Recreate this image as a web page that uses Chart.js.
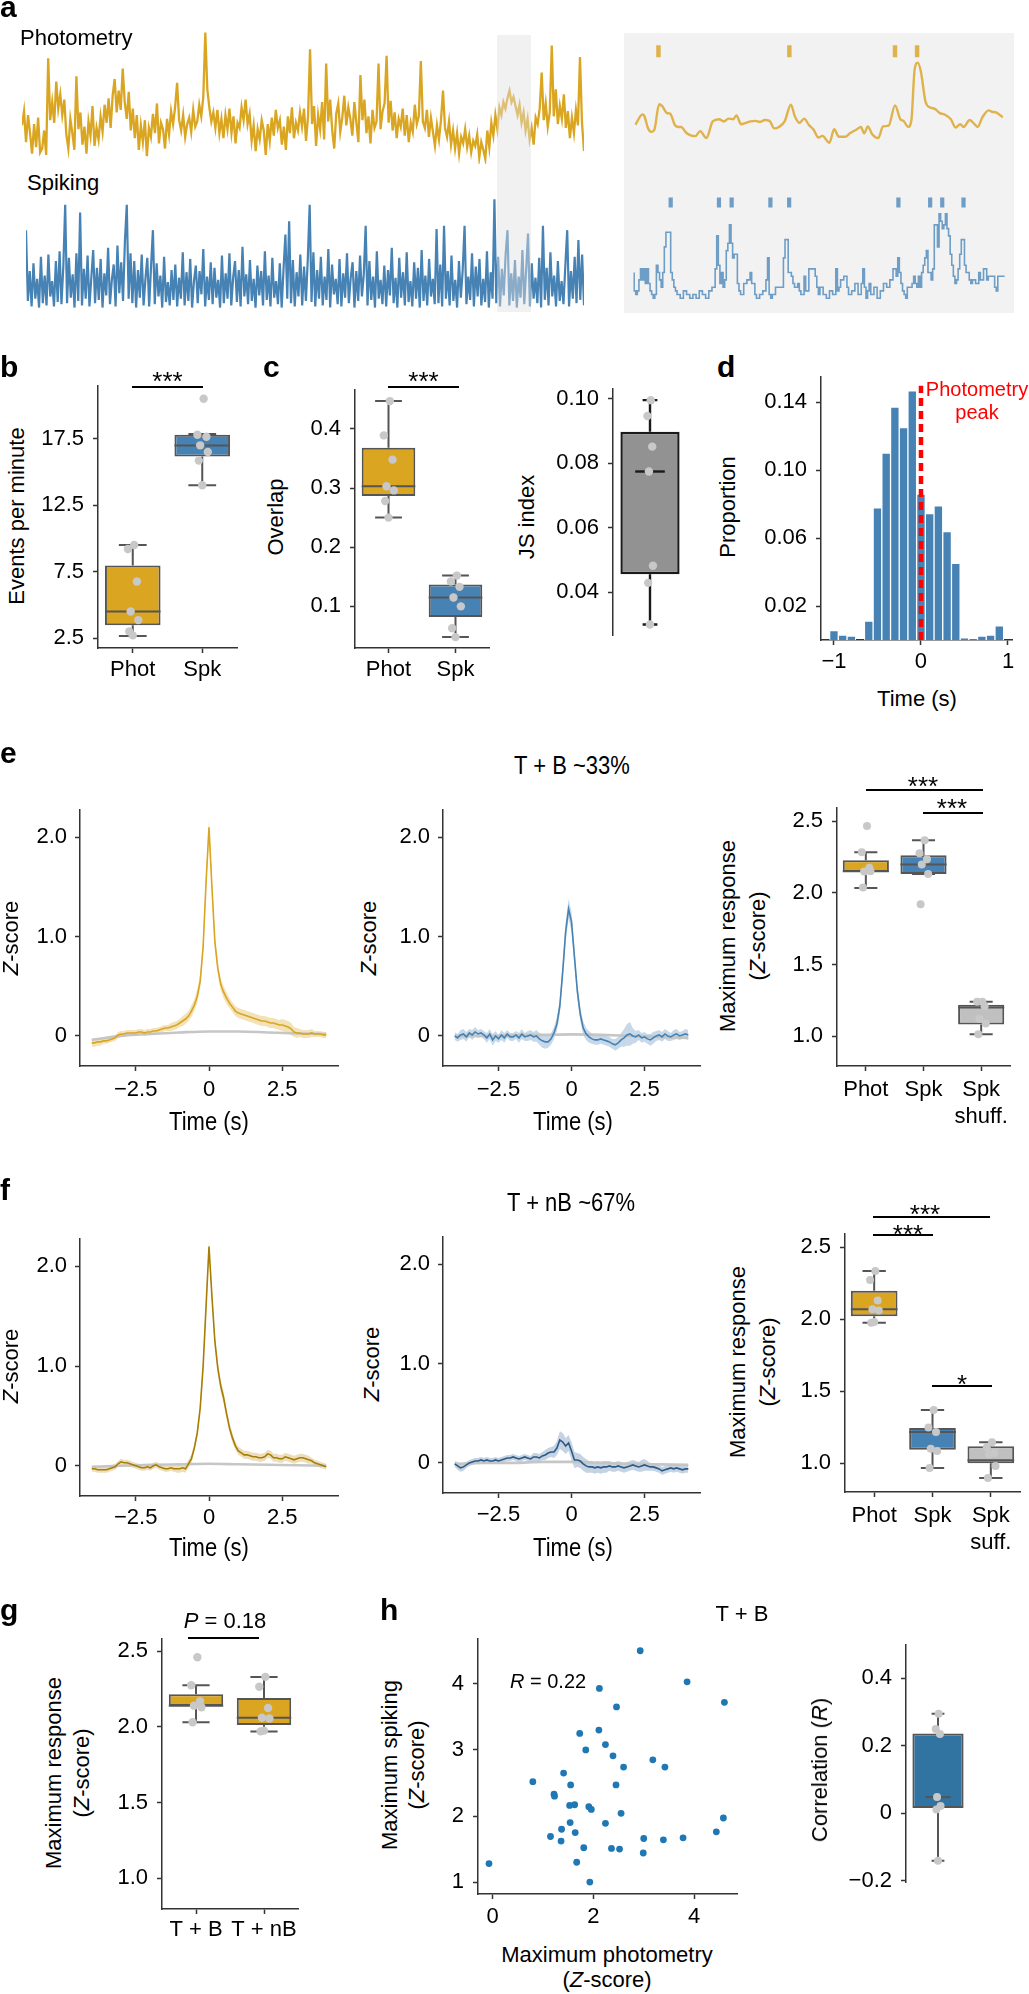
<!DOCTYPE html>
<html><head><meta charset="utf-8">
<script src="https://cdn.jsdelivr.net/npm/chart.js@4.4.1/dist/chart.umd.min.js"></script>
<style>
html,body{margin:0;padding:0;background:#fff;}
body{position:relative;width:1029px;height:1994px;overflow:hidden;font-family:'Liberation Sans',Arial,Helvetica,sans-serif;color:#000;}
.tx{position:absolute;white-space:nowrap;line-height:1;}
</style></head><body>
<script>
// ================= DATA =================
// panel a : long traces (arbitrary units)
const photTrace = [
2.8,3.9,1.5,3.6,2.2,0.6,2.9,1.1,3.4,0.7,1.0,2.4,0.5,8.0,3.2,4.6,3.0,6.2,4.1,5.2,
3.6,4.8,2.1,1.0,3.3,2.2,0.9,6.6,2.5,3.8,1.3,2.7,0.6,3.1,2.0,4.3,1.2,2.6,1.7,3.5,
2.3,4.4,3.0,4.9,2.6,5.1,6.4,3.8,5.5,4.0,7.2,4.6,3.3,5.4,2.4,4.1,1.8,3.6,0.9,2.8,
1.5,3.2,0.4,2.6,1.9,3.7,2.2,4.5,1.4,3.0,2.5,1.0,3.3,2.1,3.9,2.9,4.2,6.1,3.2,2.4,
3.6,1.9,2.9,3.4,2.3,4.0,2.7,3.1,4.4,3.5,5.0,10.0,5.6,4.2,3.1,3.8,2.6,4.0,2.2,3.3,
1.8,3.6,2.5,4.1,2.2,3.5,1.4,3.0,2.6,4.2,3.2,4.8,2.9,3.7,1.6,2.8,0.8,2.5,1.7,3.2,
2.4,0.5,2.9,1.6,3.4,2.0,4.0,2.6,3.2,1.3,2.7,0.9,3.5,2.2,4.2,1.8,3.0,2.4,3.8,2.7,
4.1,1.6,3.5,8.7,2.9,4.3,1.2,3.6,2.5,4.6,1.7,7.6,3.1,4.8,2.4,1.0,3.7,4.5,2.3,3.4,
5.1,2.8,4.2,3.3,2.0,4.6,3.0,1.5,6.7,3.2,4.8,2.2,3.5,1.4,4.0,2.6,3.1,7.6,2.5,3.9,
4.5,8.2,3.0,4.7,2.4,3.8,1.8,3.3,2.7,4.1,2.0,3.6,1.5,3.0,2.3,4.4,2.9,3.5,7.8,3.1,
2.6,4.0,1.9,3.4,2.3,1.2,2.8,1.7,3.2,5.5,2.6,1.9,3.1,1.3,2.4,1.0,2.2,0.6,1.9,1.4,
2.5,1.1,2.0,0.7,1.6,1.2,2.1,0.3,1.5,0.9,0.2,2.4,1.1,3.0,2.0,3.6,2.5,4.2,3.6,4.6,
4.1,4.9,5.5,4.6,5.0,4.3,3.6,4.4,3.0,3.8,2.4,3.3,1.7,2.6,1.3,3.4,2.9,4.1,6.9,3.2,
4.5,2.7,3.8,9.0,3.5,5.6,2.9,4.3,3.3,5.2,2.6,3.9,1.8,3.4,2.2,4.0,2.8,8.1,3.0,0.8];
const spikeTrace = [
7.2,0.8,3.5,0.3,4.2,1.0,2.8,0.2,4.8,0.6,3.1,0.4,5.0,1.2,2.6,0.3,4.4,0.7,5.3,0.5,
3.9,9.5,0.6,4.7,1.1,3.2,0.2,5.1,0.8,8.8,0.4,3.7,1.0,4.9,0.3,2.9,5.4,0.6,3.8,0.9,
4.6,0.2,3.3,1.3,5.6,0.5,2.7,4.1,0.3,5.8,1.5,4.3,0.8,6.2,9.5,1.0,5.1,0.6,4.4,0.2,
3.6,1.1,5.0,0.4,2.8,4.7,0.3,3.9,7.2,0.5,4.2,1.2,3.1,0.2,4.8,0.7,2.5,0.4,3.6,0.9,
4.1,0.3,2.9,1.0,5.2,0.4,3.4,0.8,4.6,0.2,2.6,4.0,0.6,3.5,1.4,5.5,0.3,3.0,0.9,4.3,
0.5,3.8,1.1,2.7,0.2,4.9,0.6,3.3,1.0,5.1,0.4,2.9,4.4,0.7,3.6,0.3,5.7,1.2,3.2,0.5,
4.5,0.8,2.8,0.2,4.0,1.3,3.5,0.4,5.3,0.9,3.1,0.3,4.7,1.1,2.6,0.5,4.2,0.2,3.7,6.8,
1.0,8.0,0.6,4.5,0.3,3.4,1.2,5.0,0.4,3.9,0.8,4.6,9.5,0.7,5.2,0.3,3.6,1.0,4.8,0.4,
3.0,0.9,5.5,0.2,4.1,1.4,2.8,0.5,4.6,0.3,3.3,1.1,5.1,0.6,2.9,4.3,0.2,3.5,0.8,4.9,
1.2,3.2,7.6,0.4,4.4,0.9,3.0,0.2,5.3,1.0,2.7,0.5,4.0,0.3,3.6,1.3,5.6,0.6,2.9,0.2,
4.7,1.1,3.4,0.4,5.2,0.7,2.6,0.3,4.3,1.0,3.8,0.2,5.4,0.8,3.1,0.4,4.6,1.2,2.8,0.5,
7.3,0.6,4.1,0.3,7.6,1.0,3.5,0.4,4.9,0.8,2.7,0.2,4.4,1.1,3.6,7.6,0.5,3.0,0.9,5.1,
0.3,3.9,1.2,4.6,0.4,2.8,0.7,5.3,0.2,3.4,1.0,10.0,0.6,4.8,0.3,3.7,1.3,5.0,7.2,0.4,
3.3,0.8,4.5,0.2,3.0,1.1,5.4,0.5,3.6,6.9,0.3,4.2,1.0,2.9,0.6,4.7,0.2,7.6,0.9,3.8,
0.4,5.2,1.2,3.1,0.3,4.4,0.8,2.6,0.5,4.0,7.2,0.3,3.5,1.0,4.8,0.6,6.3,0.9,5.0,0.4];
// panel a : zoomed window (time in samples)
const winOrangeT = [0,22,28,40,50,60,75,85,100,110,125,135,145,160,175,190,205,225,245,265,
280,295,310,320,335,350,365,380,395,410,425,440,455,473,493,505,520,535,550,565,
580,593,615,630,645,665,680,700,715,725,737,750,770,785,803,823,840,850,865,875,
885,895,905,920,935,950,965,980,1000,1015,1030,1040,1060,1075,1085,1100,1120,1130,1145,1165];
const winOrangeV = [7.8,11.5,11.0,6.5,5.2,6.0,15.2,14.5,12.0,11.8,7.7,7.0,7.0,5.0,4.0,3.7,5.5,3.0,9.0,9.8,
9.0,10.0,9.8,11.2,8.0,8.5,9.0,9.2,8.8,9.5,9.2,6.5,7.0,9.0,15.0,11.0,8.5,10.0,7.7,6.0,
3.2,3.8,1.3,6.2,3.5,3.5,4.7,6.0,7.0,4.7,7.2,4.5,3.0,7.2,7.5,14.8,9.8,9.2,7.0,9.5,
27.5,30.2,27.0,16.0,14.0,13.5,12.0,11.5,9.8,6.8,8.0,7.0,9.5,8.0,7.0,10.5,13.0,12.5,12.2,10.5];
const winPhotEvents = [73,488,823,893];
const winSpikeEvents = [115,267,307,429,488,832,932,970,1037];
const winSpikeSteps = [[0,7],[5,2],[10,1],[15,2],[20,5],[25,8],[30,5],[35,8],[40,4],[45,8],[50,4],[55,2],[60,1],[65,0],[70,1],
[75,9],[80,7],[85,5],[90,3],[95,7],[100,14],[115,18],[120,7],[125,5],[130,3],[135,2],[145,1],[155,0],[165,2],[175,1],[185,0],
[195,1],[205,0],[215,2],[225,1],[235,0],[245,2],[255,3],[260,8],[265,17],[270,9],[275,4],[280,7],[285,3],[290,5],[295,13],
[300,15],[305,20],[310,15],[315,11],[325,12],[330,4],[335,2],[345,1],[355,4],[365,5],[370,7],[380,4],[385,1],[395,0],[405,1],
[415,2],[420,5],[425,11],[430,1],[435,0],[445,1],[470,3],[475,11],[485,16],[495,7],[500,6],[505,4],[515,3],[520,4],[525,2],
[535,1],[540,6],[550,2],[570,8],[575,6],[580,3],[585,1],[595,3],[605,1],[615,0],[625,2],[635,1],[640,8],[645,2],[650,3],
[660,5],[670,6],[675,3],[685,1],[695,2],[705,4],[715,1],[720,4],[725,8],[730,3],[735,0],[740,2],[745,4],[755,1],[765,3],
[775,0],[785,2],[795,4],[805,3],[815,5],[825,8],[830,6],[835,11],[840,7],[845,4],[850,2],[855,1],[860,0],[875,3],[880,4],
[885,6],[890,4],[895,3],[900,6],[905,3],[910,7],[915,9],[920,11],[925,13],[935,7],[940,5],[945,8],[955,20],[960,14],[965,23],
[970,21],[975,19],[980,20],[985,23],[990,19],[995,17],[1000,12],[1005,9],[1010,6],[1015,4],[1020,5],[1025,8],[1030,12],
[1040,16],[1045,9],[1055,7],[1060,5],[1065,4],[1075,5],[1085,4],[1090,7],[1100,5],[1110,8],[1115,5],[1135,6],[1140,3],
[1145,2],[1150,6],[1167,6]];

// box stats: [low whisker, q1, median, q3, high whisker]
const bCats = ['Phot','Spk'];
const bStats = [[2.65,3.47,4.5,7.95,9.5],[14.0,16.16,16.98,17.8,17.85]];
const bPoints = [[9.5,9.2,6.75,4.5,3.85,3.0,2.7],[20.5,17.8,17.65,17.0,16.5,15.85,14.0]];
const bTicks = [2.5,7.5,12.5,17.5], bTickLabels = ['2.5','7.5','12.5','17.5'];

const cCats = ['Phot','Spk'];
const cStats = [[0.25,0.2866,0.303,0.368,0.447],[0.048,0.082,0.115,0.137,0.152]];
const cPoints = [[0.447,0.389,0.348,0.303,0.296,0.278,0.25],[0.152,0.142,0.133,0.115,0.10,0.063,0.048]];
const cTicks = [0.1,0.2,0.3,0.4], cTickLabels = ['0.1','0.2','0.3','0.4'];

const jsStats = [[0.030,0.0456,0.0774,0.0897,0.0995]];
const jsPoints = [[0.0995,0.0946,0.0851,0.0774,0.0482,0.0429,0.030]];
const jsTicks = [0.04,0.06,0.08,0.10], jsTickLabels = ['0.04','0.06','0.08','0.10'];

// panel d histogram
const histBins = [-1.0,-0.9,-0.8,-0.7,-0.6,-0.5,-0.4,-0.3,-0.2,-0.1,0.0,0.1,0.2,0.3,0.4,0.5,0.6,0.7,0.8,0.9];
const histProp = [0.0056,0.0029,0.0023,0,0.0112,0.0778,0.110,0.137,0.125,0.1466,0.0858,0.0743,0.079,0.0638,0.0451,0.0013,0.0009,0.0023,0.0029,0.0083];
const dTicksY = [0.02,0.06,0.10,0.14], dTickLabelsY = ['0.02','0.06','0.10','0.14'];
const dTicksX = [-1,0,1], dTickLabelsX = ['\u22121','0','1'];
const photPeakTime = 0, photPeakLineTop = 0.1496;

// panels e/f : mean +- sem, time -4..4 s, 0.1 s steps
const ePhotMean = [-0.07,-0.07,-0.06,-0.06,-0.05,-0.05,-0.04,-0.03,-0.02,0.01,
0.02,0.02,0.03,0.03,0.03,0.03,0.04,0.04,0.03,0.04,
0.04,0.05,0.05,0.06,0.07,0.08,0.08,0.09,0.10,0.11,
0.13,0.15,0.17,0.20,0.25,0.31,0.40,0.55,0.90,1.55,
2.10,1.50,0.95,0.68,0.52,0.44,0.38,0.33,0.29,0.25,
0.23,0.22,0.21,0.20,0.19,0.18,0.17,0.16,0.15,0.15,
0.14,0.13,0.13,0.12,0.11,0.11,0.10,0.09,0.07,0.04,
0.03,0.03,0.02,0.02,0.02,0.03,0.02,0.02,0.02,0.01,0.01];
const ePhotSem = [0.04,0.04,0.04,0.04,0.03,0.03,0.03,0.03,0.03,0.03,
0.03,0.03,0.03,0.03,0.03,0.03,0.03,0.03,0.03,0.03,
0.03,0.03,0.03,0.03,0.03,0.03,0.03,0.04,0.04,0.04,
0.04,0.05,0.05,0.05,0.06,0.06,0.07,0.07,0.08,0.08,
0.09,0.08,0.07,0.06,0.06,0.06,0.06,0.05,0.05,0.05,
0.05,0.05,0.05,0.05,0.05,0.05,0.05,0.05,0.05,0.05,
0.05,0.05,0.05,0.05,0.05,0.06,0.06,0.06,0.06,0.05,
0.05,0.04,0.04,0.04,0.04,0.04,0.03,0.03,0.03,0.03,0.03];
const eSpkMean = [0.00,-0.02,0.01,0.02,-0.01,0.03,0.01,0.04,0.02,0.03,
0.01,-0.02,0.02,-0.04,0.00,-0.03,0.01,-0.02,0.02,-0.01,
-0.01,0.01,-0.02,0.02,-0.01,0.00,0.01,-0.01,0.00,-0.03,
-0.05,-0.06,-0.06,-0.03,0.03,0.12,0.30,0.65,1.05,1.28,
1.15,0.80,0.45,0.22,0.08,0.02,-0.01,-0.03,-0.04,-0.04,
-0.03,-0.04,-0.05,-0.06,-0.08,-0.09,-0.07,-0.04,-0.02,0.01,
0.02,0.00,-0.01,0.01,-0.02,-0.01,-0.03,-0.04,-0.02,0.00,
0.01,-0.01,0.02,0.00,-0.01,0.01,0.02,0.00,0.01,0.02,0.01];
const eSpkSem = [0.04,0.04,0.05,0.05,0.05,0.04,0.05,0.05,0.04,0.04,
0.04,0.05,0.05,0.06,0.05,0.04,0.05,0.05,0.04,0.04,
0.04,0.04,0.05,0.05,0.04,0.05,0.05,0.05,0.06,0.06,
0.07,0.07,0.06,0.06,0.06,0.07,0.08,0.09,0.10,0.10,
0.10,0.09,0.08,0.07,0.07,0.06,0.06,0.05,0.05,0.05,
0.05,0.05,0.05,0.05,0.05,0.06,0.06,0.07,0.09,0.11,
0.12,0.08,0.06,0.05,0.05,0.05,0.05,0.06,0.06,0.05,
0.05,0.05,0.05,0.05,0.04,0.05,0.05,0.04,0.04,0.05,0.05];
const fPhotMean = [-0.03,-0.03,-0.04,-0.04,-0.04,-0.04,-0.03,-0.02,-0.01,0.02,
0.04,0.03,0.03,0.02,0.01,0.00,-0.01,-0.02,-0.02,-0.01,
-0.02,0.00,0.01,-0.01,-0.02,-0.03,-0.03,-0.02,-0.03,-0.03,
-0.03,-0.02,-0.03,0.02,0.07,0.18,0.33,0.58,1.00,1.60,
2.20,1.70,1.25,0.98,0.80,0.68,0.52,0.38,0.28,0.20,
0.15,0.13,0.11,0.11,0.10,0.09,0.09,0.08,0.08,0.09,
0.12,0.11,0.08,0.08,0.07,0.07,0.09,0.08,0.07,0.06,
0.07,0.08,0.08,0.07,0.06,0.05,0.03,0.02,0.01,0.00,-0.01];
const fPhotSem = [0.03,0.03,0.03,0.03,0.03,0.03,0.03,0.03,0.03,0.03,
0.03,0.03,0.03,0.03,0.03,0.03,0.03,0.03,0.03,0.03,
0.03,0.03,0.03,0.03,0.03,0.03,0.03,0.03,0.03,0.04,
0.04,0.04,0.04,0.04,0.04,0.04,0.05,0.05,0.06,0.06,
0.06,0.06,0.06,0.06,0.06,0.06,0.05,0.05,0.05,0.04,
0.04,0.04,0.04,0.04,0.04,0.04,0.04,0.04,0.04,0.04,
0.04,0.04,0.04,0.04,0.04,0.04,0.04,0.04,0.04,0.04,
0.04,0.04,0.04,0.04,0.04,0.03,0.03,0.03,0.03,0.03,0.03];
const fSpkMean = [-0.01,-0.03,-0.05,-0.04,-0.02,0.00,0.01,0.02,0.02,0.03,
0.02,0.03,0.02,0.02,0.03,0.02,0.03,0.04,0.05,0.05,
0.06,0.05,0.04,0.05,0.06,0.05,0.04,0.06,0.06,0.05,
0.07,0.08,0.10,0.11,0.11,0.15,0.23,0.21,0.17,0.20,
0.12,0.03,0.03,0.02,-0.01,-0.03,-0.04,-0.04,-0.05,-0.04,
-0.05,-0.04,-0.04,-0.03,-0.04,-0.04,-0.03,-0.04,-0.05,-0.04,
-0.03,-0.02,-0.03,-0.04,-0.03,-0.02,-0.03,-0.04,-0.04,-0.05,
-0.06,-0.08,-0.07,-0.06,-0.05,-0.06,-0.05,-0.06,-0.07,-0.06,-0.06];
const fSpkSem = [0.03,0.04,0.04,0.04,0.03,0.03,0.03,0.03,0.03,0.03,
0.03,0.03,0.03,0.03,0.03,0.03,0.03,0.03,0.03,0.03,
0.03,0.03,0.03,0.03,0.03,0.03,0.03,0.04,0.04,0.04,
0.04,0.05,0.05,0.05,0.06,0.07,0.09,0.09,0.08,0.08,
0.09,0.08,0.07,0.07,0.07,0.07,0.06,0.06,0.06,0.06,
0.06,0.06,0.06,0.05,0.05,0.05,0.05,0.05,0.05,0.05,
0.05,0.05,0.05,0.05,0.06,0.06,0.05,0.04,0.04,0.04,
0.04,0.04,0.04,0.04,0.04,0.04,0.04,0.04,0.04,0.04,0.04];
const shufTimes = [-4,-3,-2,-1,0,1,2,3,4];
const ePhotShuf = [-0.04,0.0,0.02,0.035,0.045,0.045,0.035,0.025,0.02];
const eSpkShuf = [0.0,0.0,0.005,0.01,0.015,0.01,0.0,-0.01,-0.02];
const fPhotShuf = [-0.01,0.0,0.01,0.015,0.02,0.015,0.01,0.005,0.0];
const fSpkShuf = [-0.01,0.0,0.0,0.01,0.01,0.0,-0.01,-0.015,-0.02];
const traceTicksX = [-2.5,0,2.5], traceTickLabelsX = ['\u22122.5','0','2.5'];
const traceTicksY = [0,1,2], traceTickLabelsY = ['0','1.0','2.0'];

const eCats = ['Phot','Spk',['Spk','shuff.']];
const eStats = [[2.034,2.145,2.15,2.228,2.283],[2.131,2.131,2.198,2.262,2.366],[1.014,1.083,1.20,1.22,1.24]];
const ePoints = [[2.466,2.283,2.175,2.148,2.150,2.038],[2.366,2.276,2.234,2.198,2.131,1.92],[1.24,1.24,1.21,1.12,1.09,1.014]];
const fCats = ['Phot','Spk',['Spk','suff.']];
const fStats = [[1.975,2.02,2.069,2.197,2.334],[0.966,1.093,1.217,1.245,1.369],[0.897,1.0,1.02,1.117,1.145]];
const fPoints = [[2.334,2.272,2.13,2.069,2.06,1.975,1.98],[1.369,1.247,1.217,1.10,1.084,0.966],[1.145,1.11,1.07,1.06,0.98,0.897]];
const respTicks = [1.0,1.5,2.0,2.5], respTickLabels = ['1.0','1.5','2.0','2.5'];

const gCats = ['T + B','T + nB'];
const gStats = [[2.03,2.137,2.14,2.216,2.275],[1.97,2.013,2.06,2.19,2.33]];
const gPoints = [[2.46,2.275,2.17,2.14,2.13,2.03],[2.33,2.265,2.125,2.06,2.055,1.97,1.975]];

const hPhot = [-0.07,2.93,3.86,2.12,4.60,2.46,2.11,1.73,2.24,1.85,2.39,3.18,2.60,3.42,1.41,0.80,1.55,2.45,1.22,1.23,1.53,1.63,1.91,1.96,2.55,4.58,1.54,2.24,1.37,4.44,1.64,1.15,3.00,3.78,3.39,1.36,1.81,2.36,2.52,2.99,1.67,1.93];
const hSpk  = [1.28,4.50,4.03,3.93,3.72,3.65,3.30,3.25,3.08,3.00,2.91,2.85,2.74,2.74,2.65,2.52,2.47,2.47,2.33,2.30,2.16,2.17,2.14,2.10,2.04,1.97,1.90,1.89,1.80,1.76,1.75,1.69,1.66,1.67,1.64,1.62,1.52,1.51,1.50,1.44,1.30,1.00];
const hTicksX = [0,2,4], hTicksY = [1,2,3,4];
const corrStats = [[-0.14,0.016,0.048,0.236,0.295]];
const corrPoints = [[0.295,0.25,0.235,0.048,0.022,0.011,-0.14]];
const corrTicks = [-0.2,0,0.2,0.4], corrTickLabels = ['\u22120.2','0','0.2','0.4'];

// ================= STYLE / HELPERS =================
const FONT = "'Liberation Sans', Arial, Helvetica, sans-serif";
const GOLD = '#DAA520', BLUE = '#4682B4', EDGE = '#555555', DOT = '#C8C8C8';
const JIT = [0.02,-0.07,0.06,-0.03,0.08,-0.05,0.0,0.04];
Chart.defaults.font.family = FONT;
Chart.defaults.font.size = 22;
Chart.defaults.color = '#000';

const boxPlugin = {
  id: 'boxw',
  beforeDatasetsDraw(chart, args, o) {
    if (!o || !o.stats) return;
    const ctx = chart.ctx, xs = chart.scales.x, ys = chart.scales.y;
    ctx.save(); ctx.strokeStyle = o.edge; ctx.lineWidth = o.lw;
    o.stats.forEach((s, i) => {
      const cx = xs.getPixelForValue(i), hw = xs.getPixelForValue(i + 0.2) - cx;
      const yl = ys.getPixelForValue(s[0]), y1 = ys.getPixelForValue(s[1]);
      const y3 = ys.getPixelForValue(s[3]), yh = ys.getPixelForValue(s[4]);
      ctx.beginPath();
      ctx.moveTo(cx, y3); ctx.lineTo(cx, yh);
      ctx.moveTo(cx - hw, yh); ctx.lineTo(cx + hw, yh);
      ctx.moveTo(cx, y1); ctx.lineTo(cx, yl);
      ctx.moveTo(cx - hw, yl); ctx.lineTo(cx + hw, yl);
      ctx.stroke();
    });
    ctx.restore();
  },
  afterDatasetDraw(chart, args, o) {
    if (!o || !o.stats) return;
    if (!chart.data.datasets[args.index].isBox) return;
    const ctx = chart.ctx, xs = chart.scales.x, ys = chart.scales.y;
    ctx.save(); ctx.strokeStyle = o.edge; ctx.lineWidth = o.lw;
    o.stats.forEach((s, i) => {
      const ym = ys.getPixelForValue(s[2]);
      ctx.beginPath();
      ctx.moveTo(xs.getPixelForValue(i - 0.4), ym); ctx.lineTo(xs.getPixelForValue(i + 0.4), ym);
      ctx.stroke();
    });
    ctx.restore();
  }
};
Chart.register(boxPlugin);

function gridOpts() {
  return {display:true, offset:false, drawOnChartArea:false, drawTicks:true, tickLength:5, tickWidth:1.5, tickColor:'#333'};
}
function axisX(min, max, ticks, labels, opt) {
  opt = opt || {};
  return {type:'linear', min, max, bounds:'data', offset:false,
    afterBuildTicks: a => { a.ticks = ticks.map(v => ({value:v})); },
    ticks:{autoSkip:false, maxRotation:0, minRotation:0, padding: opt.pad == null ? 4 : opt.pad,
      font: opt.font || {family:FONT, size:22, lineHeight:1.25}, color:'#000', callback:(v,i) => labels[i]},
    grid: gridOpts(), border:{display:true, color:'#333', width:1.5}};
}
function axisY(min, max, ticks, labels, opt) {
  opt = opt || {};
  return {type:'linear', min, max, bounds:'data',
    afterBuildTicks: a => { a.ticks = ticks.map(v => ({value:v})); },
    ticks:{autoSkip:false, padding: opt.pad == null ? 9 : opt.pad,
      font: opt.font || {family:FONT, size:22}, color:'#000', callback:(v,i) => labels[i]},
    grid: gridOpts(), border:{display:true, color:'#333', width:1.5}};
}
function makeChart(area, pad, cfg) {
  const W = area.R - area.L + pad.l + pad.r;
  const H = area.B - area.T + pad.t + pad.b;
  const cv = document.createElement('canvas');
  cv.width = W; cv.height = H;
  cv.style.cssText = 'position:absolute;left:' + (area.L - pad.l) + 'px;top:' + (area.T - pad.t) + 'px;width:' + W + 'px;height:' + H + 'px;';
  document.body.appendChild(cv);
  const o = cfg.options = cfg.options || {};
  o.responsive = false; o.maintainAspectRatio = false; o.animation = false; o.events = []; o.devicePixelRatio = 1;
  o.plugins = Object.assign({legend:{display:false}, tooltip:{enabled:false}}, o.plugins || {});
  const pd = {top:pad.t, right:pad.r, left:0, bottom:0};
  const sx = o.scales.x, sy = o.scales.y;
  if (sx.display === false) pd.bottom = pad.b; else sx.afterFit = s => { s.height = pad.b; };
  if (sy.display === false) pd.left = pad.l; else sy.afterFit = s => { s.width = pad.l; };
  o.layout = {padding: pd};
  return new Chart(cv, cfg);
}
function boxChart(area, pad, stats, points, fills, cats, yr, yTicks, yLabels, opt) {
  opt = opt || {};
  const n = stats.length, sd = [];
  points.forEach((arr, i) => arr.forEach((v, j) => sd.push({x: i + JIT[j % JIT.length], y: v})));
  const edge = opt.edge || EDGE, lw = opt.lw || 2;
  const xAxis = cats ? axisX(-0.5, n - 0.5, stats.map((s, i) => i), cats, {pad: opt.xpad == null ? 4 : opt.xpad})
                     : {type:'linear', display:false, min:-0.5, max:n - 0.5};
  return makeChart(area, pad, {
    type:'bar',
    data:{datasets:[
      {type:'scatter', data:sd, order:0, pointRadius:opt.pr || 4.2, pointBackgroundColor:DOT, pointBorderWidth:0},
      {isBox:true, data:stats.map((s, i) => ({x:i, y:[s[1], s[3]]})), order:1, backgroundColor:fills,
       borderColor:edge, borderWidth:lw, borderSkipped:false, barPercentage:0.8, categoryPercentage:1, grouped:false}
    ]},
    options:{scales:{x:xAxis, y:axisY(yr[0], yr[1], yTicks, yLabels)}, plugins:{boxw:{stats, edge, lw}}}
  });
}
const tGrid = ePhotMean.map((v, i) => (i - 40) / 10);
function traceChart(area, pad, mean, sem, shuf, color, band, xpad) {
  const nf = {family:FONT, size:22, lineHeight:1.2};
  return makeChart(area, pad, {
    type:'line',
    data:{datasets:[
      {data:tGrid.map((t, i) => ({x:t, y:mean[i]})), borderColor:color, borderWidth:1.6, pointRadius:0, order:0},
      {data:shufTimes.map((t, i) => ({x:t, y:shuf[i]})), borderColor:'rgba(195,195,195,0.95)', borderWidth:2.6, pointRadius:0, cubicInterpolationMode:'monotone', order:1},
      {data:tGrid.map((t, i) => ({x:t, y:mean[i] + sem[i]})), borderColor:'rgba(0,0,0,0)', borderWidth:0.1, pointRadius:0, fill:false, order:2},
      {data:tGrid.map((t, i) => ({x:t, y:mean[i] - sem[i]})), borderColor:'rgba(0,0,0,0)', borderWidth:0.1, pointRadius:0, fill:'-1', backgroundColor:band, order:3}
    ]},
    options:{scales:{
      x:axisX(-4.4, 4.4, traceTicksX, traceTickLabelsX, {pad:xpad, font:nf}),
      y:axisY(-0.303, 2.273, traceTicksY, traceTickLabelsY, {font:nf, pad:8})}}
  });
}
function T(html, x, base, size, align, opt) {
  opt = opt || {};
  const d = document.createElement('div'); d.className = 'tx'; d.innerHTML = html;
  d.style.fontSize = size + 'px'; d.style.fontFamily = FONT;
  if (opt.bold) d.style.fontWeight = 'bold';
  if (opt.color) d.style.color = opt.color;
  d.style.left = x + 'px'; d.style.top = (base - 0.8465 * size) + 'px';
  let tr = '';
  if (align === 'center') tr = 'translateX(-50%)';
  else if (align === 'right') tr = 'translateX(-100%)';
  if (opt.sy) { tr += ' scaleY(' + opt.sy + ')'; d.style.transformOrigin = '50% ' + (0.8465 * size) + 'px'; }
  d.style.transform = tr;
  document.body.appendChild(d);
}
function R(html, cx, cy, size, opt) {
  opt = opt || {};
  const d = document.createElement('div'); d.className = 'tx'; d.innerHTML = html;
  d.style.fontSize = size + 'px'; d.style.fontFamily = FONT;
  d.style.left = cx + 'px'; d.style.top = cy + 'px';
  d.style.transform = 'translate(-50%,-50%) rotate(-90deg)';
  document.body.appendChild(d);
}
function HL(x1, x2, y, w) {
  w = w || 2;
  const d = document.createElement('div');
  d.style.cssText = 'position:absolute;left:' + x1 + 'px;top:' + (y - w / 2) + 'px;width:' + (x2 - x1) + 'px;height:' + w + 'px;background:#000;';
  document.body.appendChild(d);
}
function STAR(s, cx, cy, size) { size = size || 26; T(s, cx, cy + 0.57 * size, size, 'center'); }
function BOX(x, y, w, h, bg) {
  const d = document.createElement('div');
  d.style.cssText = 'position:absolute;left:' + x + 'px;top:' + y + 'px;width:' + w + 'px;height:' + h + 'px;background:' + bg + ';';
  document.body.appendChild(d);
}

// ================= PANEL a =================
makeChart({L:22, T:30, R:584, B:164}, {l:0, t:0, r:0, b:0}, {
  type:'line',
  data:{datasets:[{data:photTrace.map((v, i) => ({x:i, y:v})), borderColor:GOLD, borderWidth:2.3, pointRadius:0}]},
  options:{scales:{x:{type:'linear', display:false, min:0, max:photTrace.length - 1}, y:{display:false, min:-0.2, max:10.2}}}
});
makeChart({L:26, T:197, R:584, B:312}, {l:0, t:0, r:0, b:0}, {
  type:'line',
  data:{datasets:[{data:spikeTrace.map((v, i) => ({x:i, y:v})), borderColor:BLUE, borderWidth:2.2, pointRadius:0}]},
  options:{scales:{x:{type:'linear', display:false, min:0, max:spikeTrace.length - 1}, y:{display:false, min:-0.2, max:10.2}}}
});
BOX(497, 35, 34, 277, 'rgba(225,225,225,0.45)');
BOX(624, 33, 390, 280, '#F2F2F2');
makeChart({L:624, T:33, R:1014, B:158}, {l:0, t:0, r:0, b:0}, {
  type:'line',
  data:{datasets:[
    {data:winOrangeT.map((t, i) => ({x:t, y:winOrangeV[i]})), borderColor:'#DFB24C', borderWidth:2.4, pointRadius:0, cubicInterpolationMode:'monotone'},
    {type:'scatter', data:winPhotEvents.map(t => ({x:t, y:34.3})), pointStyle:'line', pointRotation:90, pointRadius:6, pointBorderWidth:4.5, pointBorderColor:'#DFB24C', pointBackgroundColor:'#DFB24C'}
  ]},
  options:{scales:{x:{type:'linear', display:false, min:-3, max:1167}, y:{display:false, min:-0.4, max:37.1}}}
});
makeChart({L:624, T:160, R:1014, B:313}, {l:0, t:0, r:0, b:0}, {
  type:'line',
  data:{datasets:[
    {data:winSpikeSteps.map(p => ({x:p[0], y:p[1]})), stepped:'after', borderColor:'#6E9DC6', borderWidth:1.6, pointRadius:0},
    {type:'scatter', data:winSpikeEvents.map(t => ({x:t, y:26.1})), pointStyle:'line', pointRotation:90, pointRadius:5, pointBorderWidth:4.2, pointBorderColor:'#6E9DC6', pointBackgroundColor:'#6E9DC6'}
  ]},
  options:{scales:{x:{type:'linear', display:false, min:-3, max:1167}, y:{display:false, min:-1.52, max:35.2}}}
});
T('Photometry', 20, 46, 22, 'left');
T('Spiking', 27, 191, 22, 'left');

// ================= PANELS b, c =================
boxChart({L:98, T:384, R:237, B:648}, {l:60, t:20, r:12, b:45}, bStats, bPoints, [GOLD, BLUE], bCats, [1.75, 21.45], bTicks, bTickLabels, {xpad:3});
boxChart({L:355, T:388, R:489, B:648}, {l:60, t:20, r:12, b:45}, cStats, cPoints, [GOLD, BLUE], cCats, [0.0296, 0.4654], cTicks, cTickLabels, {xpad:3});
boxChart({L:613, T:387, R:687, B:648}, {l:62, t:20, r:8, b:10}, jsStats, jsPoints, ['#929292'], null, [0.0265, 0.1029], jsTicks, jsTickLabels, {edge:'#1a1a1a', lw:2.4});
R('Events per minute', 17, 516, 22);
R('Overlap', 276, 517, 22);
R('JS index', 527, 517, 22);
HL(132, 203, 387); STAR('***', 167.5, 375);
HL(388, 459, 387); STAR('***', 423.5, 375);

// ================= PANEL d =================
makeChart({L:821, T:375, R:1012, B:640}, {l:66, t:20, r:14, b:40}, {
  type:'bar',
  data:{datasets:[
    {type:'line', data:[{x:photPeakTime, y:0}, {x:photPeakTime, y:photPeakLineTop}], borderColor:'#FF0000', borderWidth:4.5, borderDash:[8,5], pointRadius:0, order:0},
    {data:histBins.map((c, i) => ({x:c, y:histProp[i]})), backgroundColor:BLUE, borderColor:'#FFFFFF', borderWidth:1, borderSkipped:'start', barPercentage:1, categoryPercentage:1, order:1}
  ]},
  options:{scales:{x:axisX(-1.149, 1.046, dTicksX, dTickLabelsX, {pad:3}), y:axisY(0, 0.1546, dTicksY, dTickLabelsY)}}
});
R('Proportion', 728, 507, 22);
T('Time (s)', 917, 707, 22, 'center');
T('Photometry', 977, 396, 20, 'center', {color:'#FF0000'});
T('peak', 977, 419, 20, 'center', {color:'#FF0000'});

// ================= PANEL e =================
traceChart({L:80, T:809, R:338, B:1066}, {l:58, t:20, r:15, b:45}, ePhotMean, ePhotSem, ePhotShuf, GOLD, 'rgba(218,165,32,0.32)', 6);
traceChart({L:443, T:809, R:700, B:1066}, {l:58, t:20, r:15, b:45}, eSpkMean, eSpkSem, eSpkShuf, BLUE, 'rgba(70,130,180,0.3)', 6);
boxChart({L:837, T:806, R:1010, B:1066}, {l:60, t:20, r:12, b:70}, eStats, ePoints, [GOLD, BLUE, '#C0C0C0'], eCats, [0.793, 2.59], respTicks, respTickLabels, {xpad:5, pr:4});
T('T + B ~33%', 572, 775, 22, 'center', {sy:1.15});
R('<i>Z</i>-score', 11, 938, 22);
R('<i>Z</i>-score', 369, 938, 22);
T('Time (s)', 209, 1131, 22, 'center', {sy:1.15});
T('Time (s)', 573, 1131, 22, 'center', {sy:1.15});
R('Maximum response', 728, 936, 22);
R('(<i>Z</i>-score)', 758, 936, 22);
HL(866, 983, 790); STAR('***', 923, 780);
HL(923, 983, 813); STAR('***', 952, 802);

// ================= PANEL f =================
traceChart({L:80, T:1238, R:338, B:1496}, {l:58, t:20, r:15, b:45}, fPhotMean, fPhotSem, fPhotShuf, '#A87D05', 'rgba(200,160,60,0.35)', 4);
traceChart({L:443, T:1236, R:700, B:1493}, {l:58, t:20, r:15, b:45}, fSpkMean, fSpkSem, fSpkShuf, '#2C5B86', 'rgba(90,130,175,0.35)', 4);
boxChart({L:845, T:1232, R:1020, B:1492}, {l:60, t:20, r:8, b:70}, fStats, fPoints, [GOLD, BLUE, '#C0C0C0'], fCats, [0.80, 2.59], respTicks, respTickLabels, {xpad:5, pr:4});
T('T + nB ~67%', 571, 1212, 22, 'center', {sy:1.15});
R('<i>Z</i>-score', 11, 1366, 22);
R('<i>Z</i>-score', 372, 1364, 22);
T('Time (s)', 209, 1557, 22, 'center', {sy:1.15});
T('Time (s)', 573, 1557, 22, 'center', {sy:1.15});
R('Maximum response', 738, 1362, 22);
R('(<i>Z</i>-score)', 768, 1362, 22);
HL(873, 990, 1217); STAR('***', 925, 1208);
HL(873, 933, 1235); STAR('***', 908, 1228);
HL(932, 992, 1386); STAR('*', 962, 1378);

// ================= PANEL g =================
boxChart({L:162, T:1637, R:298, B:1909}, {l:60, t:20, r:20, b:45}, gStats, gPoints, [GOLD, GOLD], gCats, [0.797, 2.579], respTicks, respTickLabels, {xpad:2});
R('Maximum response', 54, 1773, 22);
R('(<i>Z</i>-score)', 82, 1773, 22);
HL(188, 259, 1638); T('<i>P</i> = 0.18', 225, 1629, 22, 'center');

// ================= PANEL h =================
makeChart({L:478, T:1637, R:737, B:1894}, {l:40, t:20, r:15, b:40}, {
  type:'scatter',
  data:{datasets:[{data:hPhot.map((x, i) => ({x:x, y:hSpk[i]})), pointRadius:3.4, pointBackgroundColor:'#1F77B4', pointBorderWidth:0}]},
  options:{scales:{x:axisX(-0.288, 4.85, hTicksX, hTicksX.map(String), {pad:4}), y:axisY(0.82, 4.675, hTicksY, hTicksY.map(String))}}
});
boxChart({L:906, T:1643, R:970, B:1895}, {l:80, t:20, r:10, b:10}, corrStats, corrPoints, ['#3274A1'], null, [-0.2056, 0.4977], corrTicks, corrTickLabels, {pr:4});
T('T + B', 742, 1622, 22, 'center');
T('<i>R</i> = 0.22', 510, 1688, 20, 'left');
R('Maximum spiking', 390, 1765, 22);
R('(<i>Z</i>-score)', 417, 1765, 22);
T('Maximum photometry', 607, 1963, 22, 'center');
T('(<i>Z</i>-score)', 607, 1988, 22, 'center');
R('Correlation (<i>R</i>)', 820, 1770, 22);

// ================= PANEL LETTERS =================
[['a',0,17],['b',0,377],['c',263,377],['d',717,377],['e',0,763],['f',0,1200],['g',0,1620],['h',380,1620]]
  .forEach(p => T(p[0], p[1], p[2], 30, 'left', {bold:true}));
</script>
</body></html>
